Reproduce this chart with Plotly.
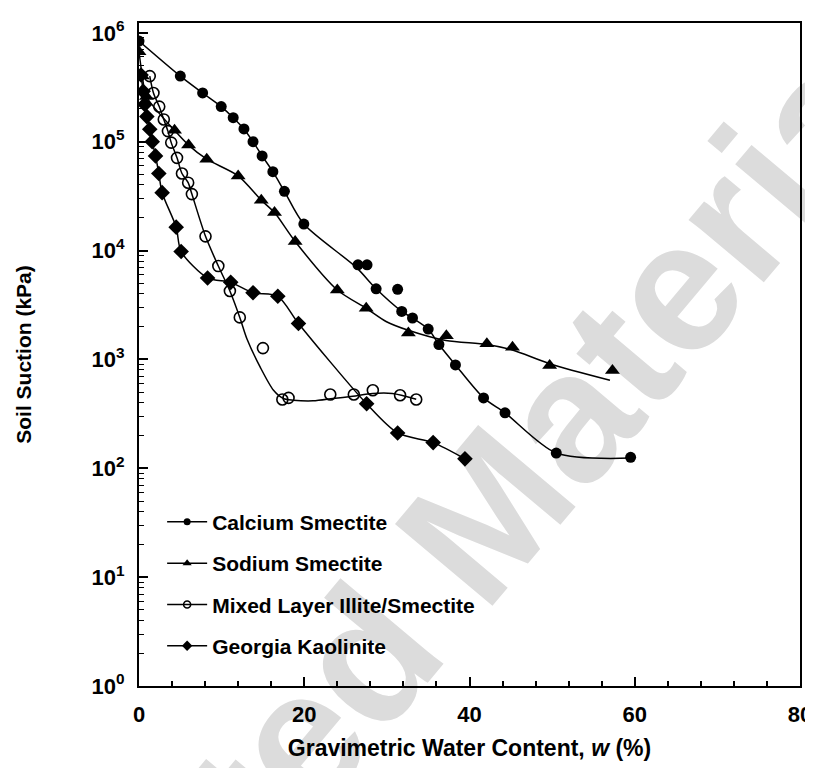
import plotly.graph_objects as go

# ---------------- data ----------------
ca_w = [0, 5.0, 7.7, 9.95, 11.4, 12.7, 13.8, 14.9, 16.2, 17.6, 19.95, 26.5, 27.6, 28.7,
        31.3, 31.8, 33.1, 35.0, 36.3, 38.3, 41.7, 44.3, 50.5, 59.5]
ca_s = [8.4e5, 4.0e5, 2.8e5, 2.1e5, 1.66e5, 1.31e5, 1.0e5, 7.4e4, 5.3e4, 3.5e4, 1.75e4,
        7.4e3, 7.4e3, 4.45e3, 4.4e3, 2.76e3, 2.4e3, 1.9e3, 1.37e3, 890, 443, 323, 138, 126]
ca_fit_w = [0, 5.0, 7.7, 9.95, 11.4, 12.7, 13.8, 14.9, 16.2, 17.6, 19.95, 26.3, 28.7,
            31.8, 33.1, 35.0, 36.3, 38.3, 41.7, 44.3, 50.5, 59.5]
ca_fit_s = [8.4e5, 4.0e5, 2.8e5, 2.1e5, 1.66e5, 1.31e5, 1.0e5, 7.4e4, 5.3e4, 3.5e4, 1.75e4,
            7.0e3, 4.45e3, 2.76e3, 2.4e3, 1.9e3, 1.37e3, 890, 443, 323, 138, 124]

na_w = [0, 0.4, 0.9, 4.3, 6.0, 8.2, 12.0, 14.8, 16.4, 18.9, 24.0, 27.5, 32.6, 37.2,
        42.1, 45.2, 49.7, 57.3]
na_s = [6.7e5, 4.0e5, 2.6e5, 1.27e5, 9.3e4, 6.9e4, 4.85e4, 2.9e4, 2.23e4, 1.21e4, 4.34e3,
        2.95e3, 1.75e3, 1.65e3, 1.39e3, 1.29e3, 880, 792]
na_fit_w = [0, 0.4, 0.9, 4.3, 6.0, 8.2, 12.0, 14.8, 16.4, 18.9, 24.0, 27.5, 29.9, 32.6,
            37.15, 42.1, 45.2, 49.7, 57.0]
na_fit_s = [6.7e5, 4.0e5, 2.6e5, 1.27e5, 9.3e4, 6.9e4, 4.85e4, 2.9e4, 2.23e4, 1.21e4,
            4.34e3, 2.95e3, 2.23e3, 1.85e3, 1.49e3, 1.37e3, 1.22e3, 912, 643]

mx_w = [1.3, 1.75, 2.45, 3.0, 3.5, 3.9, 4.6, 5.2, 5.95, 6.4, 8.05, 9.6, 11.0, 12.2, 15.0,
        17.35, 18.1, 23.15, 26.0, 28.3, 31.6, 33.55]
mx_s = [4.0e5, 2.8e5, 2.1e5, 1.6e5, 1.25e5, 9.8e4, 7.1e4, 5.1e4, 4.2e4, 3.3e4, 1.35e4,
        7.2e3, 4.25e3, 2.43e3, 1.27e3, 428, 443, 476, 476, 521, 469, 428]
mx_fit_w = [1.3, 1.75, 2.45, 3.0, 3.5, 3.9, 4.6, 5.2, 5.95, 6.4, 8.05, 9.6, 11.0, 12.2,
            13.07, 14.67, 16.28, 17.48, 18.67, 21.07, 23.47, 25.87, 28.27, 30.67, 33.55]
mx_fit_s = [4.0e5, 2.8e5, 2.1e5, 1.6e5, 1.25e5, 9.8e4, 7.1e4, 5.1e4, 4.2e4, 3.3e4, 1.35e4,
            7.2e3, 4.25e3, 2.43e3, 1.54e3, 849, 521, 437, 422, 416, 437, 459, 486, 486, 431]

ka_w = [0.25, 0.5, 0.7, 0.95, 1.3, 1.6, 2.0, 2.4, 2.8, 4.5, 5.1, 8.3, 11.1, 13.8, 16.8,
        19.3, 27.55, 31.3, 35.6, 39.45]
ka_s = [4.1e5, 2.9e5, 2.2e5, 1.7e5, 1.3e5, 1.0e5, 7.4e4, 5.1e4, 3.4e4, 1.64e4, 9.8e3,
        5.6e3, 5.1e3, 4.1e3, 3.8e3, 2.14e3, 391, 211, 172, 122]

series_names = ["Calcium Smectite", "Sodium Smectite", "Mixed Layer Illite/Smectite",
                "Georgia Kaolinite"]
x_tick_vals = [0, 20, 40, 60, 80]
y_tick_vals = [1, 10, 100, 1000, 10000, 100000, 1000000]
y_tick_text = ["10<sup>0</sup>", "10<sup>1</sup>", "10<sup>2</sup>", "10<sup>3</sup>",
               "10<sup>4</sup>", "10<sup>5</sup>", "10<sup>6</sup>"]
y_minor_vals = [m * 10 ** k for k in range(0, 6) for m in range(2, 10)]
watermark = "Copyrighted Material"

# ---------------- figure ----------------
FONT = "Liberation Sans, Arial, sans-serif"
fig = go.Figure()

styles = [
    dict(symbol="circle", size=11, color="black", line=dict(width=0)),
    dict(symbol="triangle-up", size=13, color="black", line=dict(width=0)),
    dict(symbol="circle-open", size=11, color="black", line=dict(width=1.6)),
    dict(symbol="diamond", size=12, color="black", line=dict(width=0)),
]
fits = [(ca_fit_w, ca_fit_s), (na_fit_w, na_fit_s), (mx_fit_w, mx_fit_s), (ka_w, ka_s)]
pts = [(ca_w, ca_s), (na_w, na_s), (mx_w, mx_s), (ka_w, ka_s)]

for (fw, fs) in fits:
    fig.add_trace(go.Scatter(x=fw, y=fs, mode="lines", line=dict(color="black", width=1.5,
                             shape="spline", smoothing=0.8), showlegend=False,
                             hoverinfo="skip"))
for (pw, ps), st in zip(pts, styles):
    fig.add_trace(go.Scatter(x=pw, y=ps, mode="markers", marker=st, showlegend=False))

legend_sizes = [7, 8, 7, 8]
for i, (name, st) in enumerate(zip(series_names, styles)):
    m = dict(st)
    m["size"] = legend_sizes[i]
    fig.add_trace(go.Scatter(x=[None], y=[None], mode="lines+markers", name=name,
                             marker=m, line=dict(color="black", width=1.5),
                             legendgroup=f"g{i}"))

W, H = 813, 768
L, R, T, B = 131, 15, 9, 90
pw_, ph_ = W - L - R, H - T - B


def px2paper(x, y):
    return (x - L) / pw_, (H - B - y) / ph_


cx, cy = 273, 724
x0, y0 = px2paper(cx - 130, cy + 155)
x1, y1 = px2paper(cx + 130, cy - 155)
fig.add_shape(type="line", xref="paper", yref="paper", x0=x0, y0=y0, x1=x1, y1=y1,
              line=dict(width=0, color="rgba(0,0,0,0)"), layer="below",
              label=dict(text=watermark, textangle=-50, textposition="middle",
                         yanchor="middle",
                         font=dict(size=185, color="#dcdcdc",
                                   family="Liberation Sans, Arial, sans-serif")))

fig.update_layout(
    width=W, height=H,
    margin=dict(l=L, r=R, t=T, b=B),
    paper_bgcolor="white", plot_bgcolor="rgba(0,0,0,0)",
    font=dict(family=FONT, size=21, color="black", weight="bold"),
    showlegend=True,
    legend=dict(x=0.035, xanchor="left", y=0.278, yanchor="top",
                bgcolor="rgba(0,0,0,0)", traceorder="grouped", tracegroupgap=11,
                font=dict(size=21, family=FONT, weight="bold"), itemwidth=40),
    xaxis=dict(range=[0, 80], tickvals=x_tick_vals, ticks="inside", ticklen=9,
               tickwidth=1.5, tickcolor="black", showline=True, linewidth=2,
               linecolor="black", mirror=True, showgrid=False, zeroline=False,
               ticklabelstandoff=8,
               minor=dict(dtick=4, tick0=0, ticks="inside", ticklen=5, tickwidth=1.5,
                          tickcolor="black", showgrid=False),
               title=dict(text="Gravimetric Water Content, <i>w</i> (%)", standoff=13,
                          font=dict(size=23)),
               tickfont=dict(size=22)),
    yaxis=dict(type="log", range=[0, 6.09], tickvals=y_tick_vals, ticktext=y_tick_text,
               ticks="inside", ticklen=9, tickwidth=1.5, tickcolor="black", showline=True,
               linewidth=2, linecolor="black", mirror=True, showgrid=False,
               zeroline=False, ticklabelstandoff=8,
               minor=dict(tickvals=y_minor_vals, ticks="inside", ticklen=5, tickwidth=1,
                          tickcolor="black", showgrid=False),
               title=dict(text="Soil Suction (kPa)", standoff=54, font=dict(size=21)),
               tickfont=dict(size=22)),
)

fig.write_html("out.html")
